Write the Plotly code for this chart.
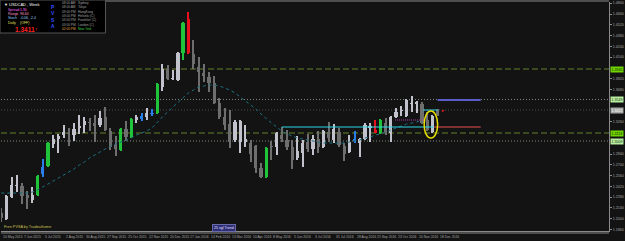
import plotly.graph_objects as go

# ---------------- data ----------------
bar_index = list(range(85))
candle_type = ["D","L","L","L","D","D","L","G","B","G",
               "L","L","L","D","L","L","L","D","D","L",
               "D","D","D","G","D","G","L","B","L","B",
               "G","L","D","L","L","G","R","D","D","D",
               "D","D","D","D","D","L","L","L","D","D",
               "D","G","D","L","D","D","D","L","L","D",
               "L","D","L","D","L","D","D","L","B","L",
               "L","L","R","G","D","L","L","L","L","L",
               "L","D","D","L","D"]
opens = [1.2073,1.1995,1.2281,1.2424,1.2424,1.2307,1.2242,1.2307,1.2580,1.2684,
         1.2970,1.3035,1.3087,1.3113,1.3087,1.3178,1.3217,1.3256,1.3243,1.3217,
         1.3321,1.3139,1.2957,1.2892,1.3165,1.3061,1.3282,1.3295,1.3321,1.3360,
         1.3373,1.3711,1.3945,1.3815,1.3802,1.4153,1.4595,1.4140,1.3971,1.3893,
         1.3841,1.3763,1.3503,1.3321,1.3230,1.3022,1.2996,1.2996,1.2983,1.2944,
         1.2658,1.2541,1.2944,1.2931,1.3087,1.3022,1.2931,1.2788,1.2853,1.2996,
         1.2905,1.3035,1.2931,1.3126,1.3022,1.3126,1.2944,1.2866,1.3017,1.2983,
         1.3035,1.3178,1.3152,1.3113,1.3243,1.3113,1.3321,1.3399,1.3334,1.3490,
         1.3490,1.3490,1.3282,1.3126,1.3412]
highs = [1.2138,1.2307,1.2541,1.2567,1.2463,1.2359,1.2411,1.2567,1.2775,1.2996,
         1.3087,1.3100,1.3217,1.3178,1.3243,1.3347,1.3321,1.3308,1.3347,1.3399,
         1.3451,1.3178,1.3074,1.3178,1.3269,1.3308,1.3347,1.3373,1.3438,1.3425,
         1.3763,1.4010,1.3997,1.3932,1.4166,1.4556,1.4686,1.4322,1.4101,1.4010,
         1.3906,1.3854,1.3568,1.3438,1.3412,1.3282,1.3282,1.3217,1.3022,1.2957,
         1.2723,1.2931,1.3009,1.3126,1.3191,1.3152,1.3022,1.3074,1.3022,1.3100,
         1.3087,1.3139,1.3152,1.3256,1.3230,1.3178,1.2983,1.3087,1.3139,1.3048,
         1.3243,1.3243,1.3282,1.3295,1.3308,1.3334,1.3438,1.3464,1.3555,1.3594,
         1.3529,1.3516,1.3386,1.3347,1.3425]
lows = [1.1956,1.1982,1.2268,1.2346,1.2190,1.2125,1.2203,1.2294,1.2541,1.2671,
        1.2918,1.2853,1.3048,1.2944,1.3009,1.3100,1.3113,1.3139,1.2996,1.3191,
        1.3139,1.2892,1.2814,1.2879,1.3009,1.3048,1.3243,1.3269,1.3282,1.3334,
        1.3360,1.3659,1.3802,1.3802,1.3795,1.4062,1.4140,1.3945,1.3646,1.3776,
        1.3646,1.3490,1.3295,1.3152,1.2918,1.2996,1.2853,1.2931,1.2736,1.2593,
        1.2528,1.2528,1.2762,1.2827,1.2996,1.2892,1.2645,1.2762,1.2671,1.2866,
        1.2827,1.2853,1.2918,1.2996,1.2983,1.2931,1.2749,1.2853,1.2983,1.2801,
        1.3022,1.2996,1.3108,1.3100,1.3087,1.2996,1.3308,1.3334,1.3321,1.3386,
        1.3373,1.3230,1.3139,1.3113,1.3334]
closes = [1.2008,1.2294,1.2437,1.2437,1.2294,1.2268,1.2307,1.2554,1.2671,1.2983,
          1.3035,1.3074,1.3126,1.3100,1.3165,1.3204,1.3269,1.3243,1.3204,1.3308,
          1.3152,1.2931,1.2905,1.3165,1.3061,1.3295,1.3321,1.3334,1.3373,1.3373,
          1.3750,1.3945,1.3815,1.3828,1.4153,1.4543,1.4153,1.4010,1.3906,1.3854,
          1.3763,1.3503,1.3321,1.3217,1.2996,1.3256,1.3269,1.3035,1.2840,1.2658,
          1.2541,1.2918,1.2931,1.3113,1.3035,1.2931,1.2762,1.2879,1.2983,1.2905,
          1.3035,1.2931,1.3139,1.3048,1.3165,1.2957,1.2840,1.2996,1.3030,1.3035,
          1.3217,1.3204,1.3113,1.3282,1.3126,1.3321,1.3386,1.3412,1.3542,1.3503,
          1.3516,1.3243,1.3152,1.3334,1.3347]
trend_ma = [1.2333,1.2333,1.2333,1.2333,1.2333,1.2333,1.2346,1.2372,1.2411,1.2450,
            1.2489,1.2528,1.2567,1.2606,1.2645,1.2697,1.2736,1.2788,1.2827,1.2866,
            1.2905,1.2944,1.2970,1.2996,1.3022,1.3048,1.3087,1.3113,1.3139,1.3178,
            1.3256,1.3321,1.3386,1.3451,1.3516,1.3581,1.3633,1.3672,1.3711,1.3724,
            1.3737,1.3737,1.3724,1.3698,1.3672,1.3633,1.3581,1.3529,1.3477,1.3425,
            1.3360,1.3295,1.3243,1.3191,1.3139,1.3100,1.3074,1.3048,1.3035,1.3022,
            1.3009,1.2996,1.2983,1.2983,1.2983,1.2983,1.2983,1.2996,1.3009,1.3022,
            1.3048,1.3061,1.3087,1.3100,1.3126,1.3152,1.3178,1.3204,1.3230,1.3243,
            1.3256,1.3282]
date_bars = [0,4,8,12,16,20,24,28,32,36,40,44,48,52,56,60,64,68,72,76,80,84]
date_labels = ["10 May 2015","7 Jun 2015","5 Jul 2015","2 Aug 2015","30 Aug 2015",
               "27 Sep 2015","25 Oct 2015","22 Nov 2015","20 Dec 2015","17 Jan 2016",
               "14 Feb 2016","13 Mar 2016","10 Apr 2016","8 May 2016","5 Jun 2016",
               "3 Jul 2016","31 Jul 2016","28 Aug 2016","25 Sep 2016","23 Oct 2016",
               "20 Nov 2016","18 Dec 2016"]
price_ticks = [1.4800,1.4660,1.4520,1.4380,1.4240,1.4100,1.3960,1.3820,1.3680,1.3540,
               1.3400,1.3260,1.3120,1.2980,1.2840,1.2700,1.2560,1.2420,1.2280,1.2140,
               1.2000,1.1860]
dash_levels = [1.3945, 1.3113]
dot_levels = [1.3549, 1.3009]
bid_price = 1.3412
trend_level = 1.3191
blue_level = 1.3542
magenta_level = 1.3282
ellipse_prices = [1.3048, 1.3399]

# ---------------- geometry helpers ----------------
W, H = 625, 241
ML, MR, MT, MB = 1, 13, 2, 10
PW, PH = W - ML - MR, H - MT - MB
def PX(px):
    return (px - ML) / PW
def PY(py):
    return (H - MB - py) / PH

FONT = "Liberation Sans Narrow, Liberation Sans, Arial"
col = {"L": "#c2c2cc", "D": "#6e6e6e", "G": "#1fc43a", "R": "#e8101c", "B": "#2a7ee8"}
colors = [col[t] for t in candle_type]
body_base = [min(o, c) for o, c in zip(opens, closes)]
body_h = [max(abs(c - o), 0.0013) for o, c in zip(opens, closes)]
wick_h = [h - l for h, l in zip(highs, lows)]

fig = go.Figure()
fig.add_trace(go.Scatter(x=bar_index[:len(trend_ma)], y=trend_ma, mode="lines",
                         line=dict(color="#1b7184", width=1, dash="dot"), hoverinfo="skip"))
fig.add_trace(go.Bar(x=bar_index, y=wick_h, base=lows, width=0.2,
                     marker=dict(color=colors, line=dict(width=0)), hoverinfo="skip"))
fig.add_trace(go.Bar(x=bar_index, y=body_h, base=body_base, width=0.62,
                     marker=dict(color=colors, line=dict(width=0)), hoverinfo="skip"))

shapes = []
for lv in dash_levels:
    shapes.append(dict(type="line", xref="paper", x0=0, x1=1, yref="y", y0=lv, y1=lv,
                       line=dict(color="#62832a", width=1, dash="6px,3px"), layer="below"))
for lv in dot_levels:
    shapes.append(dict(type="line", xref="paper", x0=0, x1=1, yref="y", y0=lv, y1=lv,
                       line=dict(color="#7d8c78", width=1, dash="1px,2px"), layer="below"))
shapes.append(dict(type="line", xref="paper", x0=0, x1=1, yref="y", y0=bid_price, y1=bid_price,
                   line=dict(color="#4c4c4c", width=1, dash="1px,2px"), layer="below"))
# trend objects
shapes.append(dict(type="line", xref="x", x0=54.0, x1=83.3, yref="y", y0=trend_level, y1=trend_level,
                   line=dict(color="#2fd8e8", width=1)))
shapes.append(dict(type="line", xref="x", x0=83.3, x1=92.3, yref="y", y0=trend_level, y1=trend_level,
                   line=dict(color="#e85050", width=1)))
shapes.append(dict(type="line", xref="x", x0=84.0, x1=92.3, yref="y", y0=blue_level, y1=blue_level,
                   line=dict(color="#5a5ac8", width=2)))
shapes.append(dict(type="line", xref="x", x0=81.2, x1=84.0, yref="y", y0=bid_price, y1=bid_price,
                   line=dict(color="#2fd8e8", width=1)))
shapes.append(dict(type="line", xref="x", x0=75.8, x1=81.6, yref="y", y0=magenta_level, y1=magenta_level,
                   line=dict(color="#b040b0", width=1, dash="1px,1px")))
shapes.append(dict(type="circle", xref="x", x0=81.4, x1=84.0, yref="y",
                   y0=ellipse_prices[0], y1=ellipse_prices[1],
                   line=dict(color="#e8e000", width=1.5)))
# frame
shapes.append(dict(type="line", xref="paper", x0=0, x1=1, yref="paper", y0=PY(1), y1=PY(1),
                   line=dict(color="#8a8a8a", width=1)))
shapes.append(dict(type="line", xref="paper", x0=0, x1=1, yref="paper", y0=PY(233), y1=PY(233),
                   line=dict(color="#8a8a8a", width=1)))
# info box
shapes.append(dict(type="rect", xref="paper", yref="paper", x0=PX(0), x1=PX(106), y0=PY(33), y1=PY(0),
                   fillcolor="#000000", line=dict(color="#555555", width=1)))

ann = []
for b, t in zip(date_bars, date_labels):
    ann.append(dict(x=b, xref="x", y=0, yref="paper", yanchor="top", xanchor="left", yshift=-2,
                    text=t, showarrow=False, font=dict(size=3.4, color="#a8a8a8", family=FONT)))
# right price labels (highlighted levels)
def plabel(price, bg, fg):
    ann.append(dict(x=1, xref="paper", y=price, yref="y", xanchor="left", yanchor="middle", xshift=1,
                    text="%.4f" % price, showarrow=False, bgcolor=bg, borderpad=0.5,
                    font=dict(size=3.6, color=fg, family=FONT)))
plabel(dash_levels[0], "#6fd400", "#102000")
plabel(dash_levels[1], "#6fd400", "#102000")
plabel(dot_levels[0], "#b8eea0", "#203010")
plabel(dot_levels[1], "#b8eea0", "#203010")
plabel(bid_price, "#a8a8a8", "#ffffff")
highlighted = dash_levels + dot_levels + [bid_price]
shown_ticks = [v for v in price_ticks if min(abs(v - h) for h in highlighted) > 0.0045]

ann.append(dict(x=85.0, xref="x", y=bid_price, yref="y", text="►", showarrow=False,
                font=dict(size=4, color="#ff2020")))
ann.append(dict(x=PX(2), xref="paper", y=PY(227), yref="paper", xanchor="left", yanchor="middle",
                text="Free PVSA by Tradeathome", showarrow=False,
                font=dict(size=3.8, color="#c8c050", family=FONT)))
ann.append(dict(x=PX(225.5), xref="paper", y=PY(228), yref="paper", xanchor="center", yanchor="middle",
                text="25 sgl Trend", showarrow=False, bgcolor="#2e2e76", bordercolor="#6a6aa8",
                borderwidth=1, borderpad=1, font=dict(size=3.6, color="#e0e0ff", family=FONT)))

# info box texts
def itext(px, py, t, c, s=3.5, bold=False):
    ann.append(dict(x=PX(px), xref="paper", y=PY(py), yref="paper", xanchor="left", yanchor="middle",
                    text=("<b>%s</b>" % t) if bold else t, showarrow=False,
                    font=dict(size=s, color=c, family=FONT)))
itext(2, 4, "▼ USDCAD , Week", "#ffffff", 4)
itext(6, 10, "Spread", "#ff66ff"); itext(18, 10, "1.90", "#ff66ff")
itext(6, 14.3, "Range", "#ff99cc"); itext(18, 14.3, "96.60", "#ff99cc")
itext(6, 18.3, "Stoch", "#99ccff"); itext(18, 18.3, "-0.06, -2.4", "#99ccff")
itext(6, 22.7, "Daily", "#e8e060"); itext(18, 22.7, "(OFF)", "#e8e060")
itext(13, 29.3, "1.3411", "#ff2020", 6.5, True)
itext(33, 30, "7", "#ff2020", 4)
for i, ch in enumerate(["P", "V", "S", "A"]):
    itext(49, 7 + i * 6.5, ch, "#3050ff", 5, True)
times = ["08:00 AM", "08:00 AM", "09:00 PM", "03:00 PM", "03:00 PM", "03:00 PM", "02:00 PM"]
cities = ["Sydney", "Tokyo", "HongKong", "Helsinki (C)", "Frankfurt (C)", "London (C)", "New York"]
for i, (t, c) in enumerate(zip(times, cities)):
    last = i == len(times) - 1
    itext(60, 2.8 + i * 4.4, t, "#e0a040" if last else "#a0a0a0", 3.2)
    itext(76, 2.8 + i * 4.4, c, "#40d040" if last else "#a0a0a0", 3.2)

fig.update_layout(
    width=W, height=H, margin=dict(l=ML, r=MR, t=MT, b=MB, pad=0),
    paper_bgcolor="#131313", plot_bgcolor="#131313",
    showlegend=False, barmode="overlay", bargap=0,
    shapes=shapes, annotations=ann,
    xaxis=dict(range=[-0.057, 116.99], showgrid=False, zeroline=False, showticklabels=False,
               showline=True, linecolor="#8a8a8a", linewidth=1, ticks=""),
    yaxis=dict(range=[1.1839, 1.4816], side="right", showgrid=False, zeroline=False,
               tickvals=shown_ticks, ticktext=["%.4f" % v for v in shown_ticks],
               tickfont=dict(size=3.6, color="#a8a8a8", family=FONT),
               ticks="outside", ticklen=2, tickcolor="#8a8a8a",
               showline=True, linecolor="#8a8a8a", linewidth=1),
)
fig.write_html("out.html")
